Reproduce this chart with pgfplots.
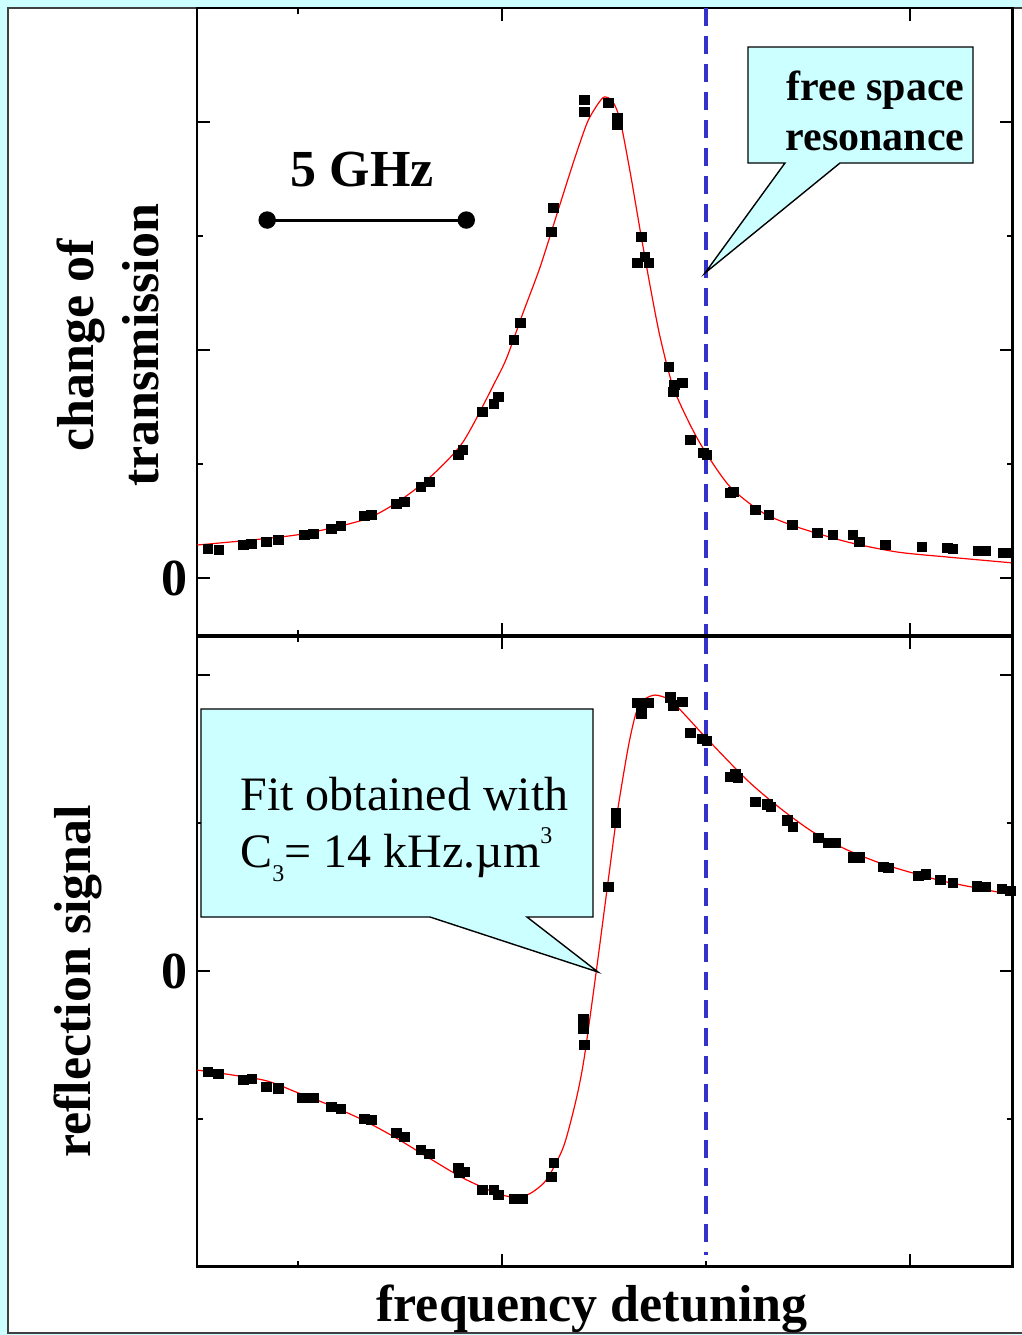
\documentclass[border=0pt]{standalone}
\usepackage{pgfplots}
\pgfplotsset{compat=1.18}
\usepackage{fontspec}
\setmainfont{Liberation Serif}
\definecolor{bgcyan}{HTML}{CCFFFF}
\definecolor{dashblue}{HTML}{3333CC}

\tikzset{resline/.style={dashblue, line width=2pt, dash pattern=on 9pt off 5pt}}
\pgfplotsset{
  panel/.style={
    scale only axis, width=408pt,
    xmin=-12.48, xmax=7.52,
    xtick={-5,5}, minor xtick={-10,0}, xticklabels={},
    tick align=inside,
    major tick length=6.5pt, minor tick length=3.2pt,
    every tick/.style={black, line width=1pt},
    axis line style={line width=1.2pt},
    yticklabel pos=left,
    yticklabel style={font=\fontsize{26}{26}\selectfont\bfseries, xshift=-1pt},
    label style={font=\fontsize{26}{32.5}\selectfont\bfseries},
  },
  datapts/.style={only marks, mark=square*, mark size=2.4pt, black, mark options={solid}},
  fitline/.style={red, line width=0.6pt, smooth, tension=0.45, no markers},
}

\begin{document}
\begin{tikzpicture}
% background (pixel scope: 1 px = 0.5 pt, y downward)
\begin{scope}[x=0.5pt, y=-0.5pt]
  \fill[bgcyan] (0,0) rectangle (1022,1335);
  \filldraw[fill=white, draw=black!75, line width=0.6pt] (8,8) rectangle (1030,1333);
\end{scope}

% ---------------- top panel ----------------
\begin{axis}[panel, at={(98.5pt,-4pt)}, anchor=north west, height=314pt,
  ymin=-0.509, ymax=5.0,
  ytick={0,2,4}, minor ytick={1,3}, yticklabels={0,,},
  ylabel={change of\\transmission},
  ylabel style={at={(axis description cs:-0.109,0.463)}, anchor=center, align=center},
]
\addplot[datapts] coordinates {
(-12.21,0.254) (-11.94,0.246) (-11.35,0.289) (-11.15,0.298) (-10.78,0.316) (-10.49,0.333)
(-9.85,0.377) (-9.63,0.386) (-9.19,0.430) (-8.95,0.456) (-8.38,0.544) (-8.21,0.553)
(-7.60,0.649) (-7.40,0.667) (-6.99,0.798) (-6.79,0.842) (-6.08,1.079) (-5.96,1.123)
(-5.49,1.456) (-5.20,1.526) (-5.10,1.588) (-4.71,2.088) (-4.56,2.237) (-3.80,3.035)
(-3.75,3.246) (-2.99,4.193) (-2.99,4.088) (-2.40,4.167) (-2.18,4.035) (-2.18,3.974)
(-1.59,2.991) (-1.69,2.763) (-1.50,2.816) (-1.40,2.763) (-0.91,1.851) (-0.81,1.632)
(-0.78,1.693) (-0.59,1.711) (-0.39,1.211) (-0.07,1.096) (0.02,1.079) (0.66,0.754)
(0.59,0.746) (1.20,0.596) (1.54,0.553) (2.11,0.465) (2.72,0.395) (3.11,0.377)
(3.60,0.377) (3.75,0.316) (4.39,0.289) (5.29,0.272) (5.91,0.263) (6.05,0.254)
(6.67,0.237) (6.84,0.237) (7.28,0.219) (7.40,0.219)
};
\addplot[fitline] coordinates {
(-12.48,0.289) (-10.05,0.377) (-8.41,0.509) (-7.60,0.658) (-6.79,0.877) (-5.96,1.193)
(-5.15,1.737) (-4.88,1.939) (-4.49,2.325) (-4.07,2.728) (-3.65,3.202) (-3.26,3.640)
(-2.92,3.991) (-2.67,4.149) (-2.50,4.219) (-2.30,4.184) (-2.11,4.018) (-1.86,3.553)
(-1.62,3.053) (-1.37,2.553) (-1.13,2.114) (-0.81,1.675) (-0.39,1.342) (-0.02,1.105)
(0.59,0.798) (1.40,0.570) (2.23,0.447) (3.46,0.316) (4.68,0.228) (5.91,0.184) (7.52,0.132)
};
% 5 GHz scale bar
\addplot[black, line width=1.5pt, mark=*, mark size=3.6pt] coordinates {(-10.76,3.14) (-5.88,3.14)};
\node[anchor=base, font=\fontsize{26}{26}\selectfont\bfseries] at (axis cs:-8.43,3.43) {5 GHz};
\draw[resline] (axis cs:0,5.0) -- (axis cs:0,-0.509);
\draw[line width=2pt] (rel axis cs:0,0) -- (rel axis cs:1,0);
\draw[line width=1.6pt] (rel axis cs:1,0) -- (rel axis cs:1,1);
\end{axis}

% ---------------- bottom panel ----------------
\begin{axis}[panel, at={(98.5pt,-318pt)}, anchor=north west, height=315.5pt,
  ymin=-2.0, ymax=2.264,
  ytick={-2,0,2}, minor ytick={-1,1}, yticklabels={,0,},
  ylabel={reflection signal},
  ylabel style={at={(axis description cs:-0.146,0.453)}, anchor=center},
  xlabel={frequency detuning},
  xlabel style={at={(axis description cs:0.484,-0.066)}, anchor=center},
]
\addplot[datapts] coordinates {
(-12.21,-0.682) (-11.96,-0.696) (-11.35,-0.736) (-11.13,-0.730) (-10.78,-0.784) (-10.49,-0.791)
(-9.90,-0.858) (-9.63,-0.858) (-9.19,-0.919) (-8.95,-0.932) (-8.38,-1.000) (-8.21,-1.007)
(-7.60,-1.095) (-7.40,-1.122) (-6.99,-1.209) (-6.79,-1.236) (-6.08,-1.331) (-6.05,-1.365)
(-5.93,-1.358) (-5.49,-1.480) (-5.20,-1.480) (-5.10,-1.514) (-4.71,-1.541) (-4.51,-1.541)
(-3.80,-1.392) (-3.73,-1.297) (-2.99,-0.500) (-3.01,-0.324) (-3.01,-0.392)
(-2.40,0.568) (-2.21,1.068) (-2.21,1.000) (-1.69,1.811) (-1.59,1.743) (-1.42,1.811)
(-0.88,1.851) (-0.81,1.797) (-0.59,1.818) (-0.39,1.608) (-0.10,1.568) (0.02,1.554)
(0.59,1.311) (0.71,1.331) (0.78,1.304) (1.20,1.142) (1.50,1.128) (1.59,1.108)
(1.99,1.020) (2.13,0.973) (2.75,0.899) (2.99,0.865) (3.16,0.865) (3.60,0.770)
(3.77,0.770) (4.34,0.703) (4.46,0.696) (5.20,0.642) (5.39,0.655) (5.74,0.615)
(6.05,0.595) (6.64,0.574) (6.84,0.568) (7.25,0.554) (7.45,0.541)
};
\addplot[fitline] coordinates {
(-12.48,-0.669) (-10.86,-0.736) (-10.05,-0.818) (-9.24,-0.905) (-8.41,-1.007) (-7.60,-1.128)
(-6.79,-1.264) (-5.96,-1.399) (-5.15,-1.500) (-4.73,-1.527) (-4.34,-1.507) (-3.92,-1.412)
(-3.50,-1.189) (-3.19,-0.872) (-2.99,-0.588) (-2.70,-0.014) (-2.40,0.615) (-2.18,1.068)
(-1.91,1.514) (-1.72,1.743) (-1.54,1.831) (-1.25,1.865) (-0.88,1.831) (-0.47,1.716)
(-0.02,1.581) (1.00,1.291) (1.81,1.101) (2.62,0.939) (3.46,0.818) (4.26,0.730)
(5.07,0.662) (5.91,0.601) (7.52,0.514)
};
\draw[resline] (axis cs:0,2.264) -- (axis cs:0,-1.92);
\draw[line width=2pt] (rel axis cs:0,0) -- (rel axis cs:1,0);
\draw[line width=2pt] (rel axis cs:0,1) -- (rel axis cs:1,1);
\draw[line width=1.6pt] (rel axis cs:1,0) -- (rel axis cs:1,1);
\end{axis}

% ---------------- callouts ----------------
\begin{scope}[x=0.5pt, y=-0.5pt]
  \filldraw[fill=bgcyan, draw=black, line width=0.7pt]
    (748,47) -- (973,47) -- (973,163) -- (840,163) -- (705,273) -- (785,163) -- (748,163) -- cycle;
  \node[anchor=base east, inner sep=0pt, font=\fontsize{21}{21}\selectfont\bfseries] at (965,100) {free space};
  \node[anchor=base east, inner sep=0pt, font=\fontsize{21}{21}\selectfont\bfseries] at (965,150) {resonance};
  \filldraw[fill=bgcyan, draw=black, line width=0.7pt]
    (201,709) -- (593,709) -- (593,917) -- (527,917) -- (598,972) -- (430,917) -- (201,917) -- cycle;
  \node[anchor=base west, inner sep=0pt, font=\fontsize{24}{24}\selectfont] at (240,810) {Fit obtained with};
  \node[anchor=base west, inner sep=0pt, font=\fontsize{24}{24}\selectfont] at (240,867)
    {C\raisebox{-0.3em}{\fontsize{12}{12}\selectfont 3}= 14 kHz.µm\raisebox{0.5em}{\fontsize{12}{12}\selectfont 3}};
  \pgfresetboundingbox
  \useasboundingbox (0,0) rectangle (1022,1335);
\end{scope}
\end{tikzpicture}
\end{document}
